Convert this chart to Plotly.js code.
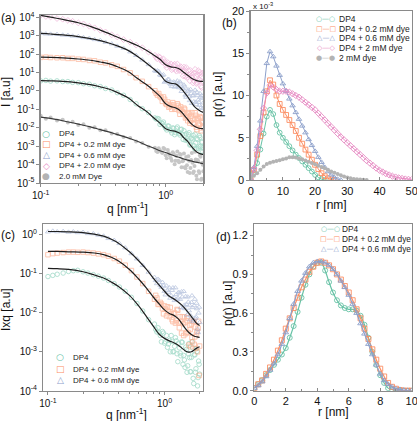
<!DOCTYPE html>
<html><head><meta charset="utf-8">
<script src="https://cdn.plot.ly/plotly-3.0.1.min.js"></script>
<style>html,body{margin:0;padding:0;background:#fff}#chart{width:417px;height:421px}</style>
</head><body><div id="chart"></div>
<script>
// ===== DATA =====
const seriesLabelsA = ['DP4','DP4 + 0.2 mM dye','DP4 + 0.6 mM dye','DP4 + 2.0 mM dye','2.0 mM Dye'];
const seriesLabelsB = ['DP4','DP4 + 0.2 mM dye','DP4 + 0.6 mM dye','DP4 + 2 mM dye','2 mM dye'];
const seriesLabelsC = ['DP4','DP4 + 0.2 mM dye','DP4 + 0.6 mM dye'];

// (a) fits, I(q)
const qFit = [0.1,0.12,0.15,0.2,0.25,0.3,0.35,0.4,0.5,0.6,0.7,0.8,0.9,1.0,1.1,1.2,1.3,1.4,1.5,1.6,1.7,1.8,1.9,2.0];
const fitA_dp4 = [3.6,3.5,3.3,2.75,2.2,1.66,1.26,0.89,0.42,0.158,0.079,0.035,0.0178,0.0089,0.0071,0.0063,0.005,0.0028,0.0018,0.001,0.00063,0.00045,0.00038,0.00035];
const fitA_02 = [68,66,62,54,46,37,30,22,11.2,4.5,2.2,1.05,0.5,0.2,0.14,0.12,0.087,0.05,0.028,0.0166,0.012,0.01,0.0091,0.0089];
const fitA_06 = [1320,1230,1100,890,690,540,400,295,158,71,33,15.8,7.9,3.3,2.6,2.4,1.58,0.89,0.48,0.25,0.14,0.1,0.079,0.068];
const fitA_20 = [12600,10000,7600,5000,3200,2000,1320,890,480,280,160,89,52,26,20,18.6,15,10,7.1,5.0,4.0,3.5,3.3,3.3];
const fitA_dye = [0.038,0.032,0.024,0.0158,0.0112,0.0079,0.006,0.0045,0.0028,0.0018,0.00112,0.00079,0.00056,0.00045,0.00035,0.00028,0.00024,0.0002,0.000174,0.000158,0.000141,0.000132,0.00012,0.000112];

// (a) measured points
const qLow = [0.10,0.11,0.12,0.135,0.15,0.165,0.18,0.2,0.22,0.245,0.27,0.3,0.33,0.37,0.41,0.46,0.52,0.58,0.65,0.73];
const qHigh = [0.82,0.86,0.90,0.94,0.98,1.02,1.06,1.10,1.14,1.18,1.22,1.26,1.30,1.34,1.38,1.42,1.46,1.50,1.54,1.58,1.62,1.66,1.70,1.74,1.78,1.82,1.86,1.90,1.94,1.98];
const qHigh2 = [0.84,0.88,0.92,0.96,1.00,1.04,1.08,1.12,1.16,1.20,1.24,1.28,1.32,1.36,1.40,1.44,1.48,1.52,1.56,1.60,1.64,1.68,1.72,1.76,1.80,1.84,1.88,1.92,1.96,2.00];
const dataA_dp4_low = [3.5,3.7,3.4,3.5,3.2,3.2,2.9,2.8,2.45,2.3,1.9,1.7,1.35,1.12,0.8,0.58,0.34,0.2,0.108,0.066];
const dataA_dp4_high = [0.034,0.0316,0.0151,0.0174,0.012,0.0076,0.012,0.0069,0.0098,0.0042,0.0091,0.006,0.004,0.0083,0.0023,0.004,0.0047,0.00195,0.0054,0.0012,0.0026,0.0038,0.00074,0.00148,0.0026,0.00079,0.0037,0.00098,0.00166,0.0005];
const dataA_dp4_high2 = [0.0295,0.030,0.0182,0.0204,0.0093,0.0126,0.0078,0.0052,0.0091,0.0055,0.011,0.0048,0.0078,0.0044,0.0069,0.0021,0.0024,0.0043,0.00115,0.0028,0.0022,0.00107,0.0045,0.00074,0.0023,0.00098,0.003,0.0005,0.00166,0.00089];
const dataA_02_low = [66,68,65,63,63,58,58,53,51,45,43,36,33,26,21.5,14.5,9.5,5.2,3.3,1.7];
const dataA_02_high = [1.02,0.59,0.5,0.27,0.35,0.182,0.129,0.182,0.23,0.102,0.126,0.162,0.054,0.096,0.058,0.1,0.048,0.024,0.056,0.0234,0.066,0.0158,0.030,0.047,0.0079,0.031,0.0155,0.035,0.0098,0.0186];
const dataA_02_high2 = [0.74,0.72,0.43,0.47,0.204,0.25,0.151,0.1,0.17,0.102,0.2,0.085,0.135,0.074,0.115,0.034,0.038,0.066,0.0178,0.043,0.033,0.0158,0.065,0.0107,0.0324,0.0135,0.04,0.0068,0.0219,0.0117];
const dataA_06_low = [1350,1250,1210,1180,1080,1050,950,900,790,720,615,550,440,360,270,208,132,85,48,27];
const dataA_06_high = [12.6,12.3,7.4,6.9,3.0,3.5,4.2,2.2,2.75,1.62,2.8,1.7,3.1,0.95,1.29,1.66,0.46,0.97,0.49,1.2,0.21,0.55,0.74,0.245,0.85,0.32,0.166,0.46,0.56,0.112];
const dataA_06_high2 = [11.7,11.4,6.9,7.6,3.4,4.2,2.6,1.74,3.1,1.8,3.5,1.5,2.4,1.32,2.1,0.6,0.66,1.12,0.30,0.72,0.55,0.26,1.1,0.182,0.56,0.24,0.72,0.123,0.4,0.224];
const dataA_20_low = [12800,11000,10300,8500,7800,6700,6000,4900,4300,3250,2650,1950,1580,1100,850,610,440,310,220,128];
const dataA_20_high = [85,54,66,37,38,18.6,24.5,29.5,16.6,28,11.8,17.8,13.2,18.6,6.5,13.2,18.6,5.4,7.4,12.6,5.0,2.7,9.1,6.6,2.9,12.6,4.0,7.4,1.5,9.1];
const dataA_20_high2 = [66,72,46,54,25.7,34.7,21.4,14.1,24.5,14.5,28.8,12.6,20.4,11.7,19.5,6.0,7.1,12.6,3.6,8.9,7.1,3.5,14.8,2.5,7.8,3.3,10.4,1.78,5.9,3.2];
const dataA_dye_low = [0.045,0.031,0.036,0.025,0.027,0.019,0.021,0.014,0.0155,0.010,0.0107,0.0072,0.0074,0.0049,0.0046,0.0031,0.0028,0.0018,0.0015,0.00092];
const dataA_dye_high = [8.1e-4,4.8e-4,5.9e-4,4.3e-4,7.1e-4,2.2e-4,4.1e-4,2.2e-4,4.6e-4,1.05e-4,3.0e-4,1.6e-4,3.7e-4,7.1e-5,1.6e-4,7.1e-5,2.6e-4,3.9e-5,1.6e-4,6.5e-5,4.2e-4,3.5e-5,8.5e-5,1.9e-4,1.6e-5,1.5e-4,3.5e-5,2.7e-4,1.7e-5,9.8e-5];
const dataA_dye_high2 = [5.4e-4,7.8e-4,4.9e-4,7.9e-4,3.2e-4,6.2e-4,3.1e-4,1.6e-4,3.9e-4,1.6e-4,5.1e-4,1.35e-4,3.4e-4,1.5e-4,4.0e-4,6.3e-5,9.3e-5,2.8e-4,3.5e-5,1.8e-4,1.26e-4,4.2e-5,5.0e-4,2.5e-5,1.8e-4,4.4e-5,3.2e-4,1.5e-5,1.23e-4,4.4e-5];

// (b) p(r), units of 1e-3
const rB = [0,1,2,3,4,5,6,7,8,9,10,11,12,13,14,15,16,17,18,19,20,21,22,23,24,25,26,27,28,29,30,31,32,33,34,35,36,37,38,39,40,41,42,43,44,45,46,47,48,49,50];
const pB_dp4 = [0,0.8,2.0,3.6,5.5,7.5,8.3,7.8,6.5,5.6,5.0,4.5,4.0,3.5,3.0,2.6,2.2,1.8,1.4,1.0,0.6,0.3,0.1,0];
const pB_02 = [0,1.2,3.0,5.2,8.0,10.5,11.8,11.3,10.0,9.0,8.3,7.7,7.1,6.5,5.8,5.0,4.3,3.6,3.0,2.4,1.8,1.3,0.8,0.45,0.2,0.05,0];
const pB_06 = [0,1.5,4.0,7.0,10.5,13.8,15.2,14.6,13.5,12.4,11.4,10.5,9.6,8.8,8.0,7.2,6.4,5.6,4.8,4.1,3.4,2.7,2.1,1.5,1.0,0.6,0.3,0.1,0];
const pB_20 = [0,1.3,3.5,6.0,8.5,10.3,11.2,11.0,10.7,10.5,10.5,10.5,10.4,10.2,10.0,9.8,9.5,9.2,8.9,8.6,8.3,7.9,7.5,7.1,6.7,6.3,5.9,5.5,5.1,4.75,4.4,4.05,3.7,3.35,3.0,2.65,2.3,2.0,1.7,1.4,1.15,0.95,0.75,0.6,0.45,0.35,0.25,0.18,0.12,0.08,0.05];
const pB_dye = [0.3,0.5,0.8,1.2,1.6,1.9,2.05,2.15,2.25,2.35,2.45,2.55,2.7,2.7,2.65,2.55,2.45,2.3,2.15,2.0,1.85,1.7,1.55,1.4,1.2,1.0,0.85,0.7,0.55,0.42,0.3,0.2,0.13,0.08,0.05,0.02,0];

// (c) I*q fits and points
const fitC_dp4 = [0.135,0.132,0.126,0.11,0.091,0.076,0.06,0.047,0.0275,0.0148,0.0079,0.0045,0.0028,0.0022,0.0019,0.0017,0.0015,0.00126,0.00107,0.00098,0.001,0.00112,0.00126,0.00135];
const fitC_02 = [0.363,0.363,0.355,0.347,0.331,0.302,0.257,0.209,0.126,0.072,0.042,0.025,0.0166,0.0117,0.0095,0.0085,0.0071,0.0054,0.004,0.0032,0.00275,0.0025,0.0024,0.00234];
const fitC_06 = [1.17,1.17,1.15,1.10,1.0,0.89,0.74,0.60,0.355,0.21,0.126,0.076,0.05,0.035,0.026,0.0224,0.019,0.0158,0.0126,0.01,0.0079,0.0063,0.0052,0.0047];
const dataC_dp4_low = [0.083,0.089,0.095,0.102,0.112,0.117,0.12,0.11,0.102,0.093,0.085,0.076,0.066,0.055,0.045,0.035,0.0245,0.017,0.011,0.0066];
const dataC_dp4_high = [0.0051,0.0032,0.0031,0.0018,0.003,0.0018,0.0013,0.00195,0.0026,0.001,0.00138,0.0019,0.00056,0.00126,0.00079,0.00174,0.00081,0.0004,0.00115,0.00044,0.00162,0.00031,0.00072,0.00126,0.000155,0.00083,0.00037,0.00102,0.00022,0.00048];
const dataC_dp4_high2 = [0.0037,0.0041,0.0026,0.0033,0.00166,0.0026,0.00158,0.001,0.00186,0.00102,0.0023,0.00089,0.00166,0.00093,0.00178,0.00048,0.00062,0.00132,0.0003,0.00089,0.00071,0.00031,0.0018,0.00021,0.00085,0.0003,0.0012,0.000135,0.00058,0.00027];
const dataC_02_low = [0.30,0.32,0.33,0.34,0.35,0.35,0.345,0.35,0.34,0.33,0.315,0.30,0.275,0.24,0.205,0.162,0.118,0.081,0.055,0.035];
const dataC_02_high = [0.0219,0.0236,0.0162,0.0166,0.0093,0.0122,0.0141,0.0079,0.0095,0.0059,0.0098,0.0063,0.0115,0.0041,0.0058,0.0078,0.0026,0.0056,0.0031,0.0074,0.00148,0.0037,0.0051,0.0018,0.0059,0.0024,0.00123,0.0033,0.004,0.00025];
const dataC_02_high2 = [0.0275,0.0162,0.0182,0.0126,0.0148,0.0083,0.0107,0.0135,0.0066,0.0093,0.0054,0.012,0.0055,0.0079,0.003,0.0052,0.0078,0.0029,0.0062,0.0031,0.0047,0.00135,0.0023,0.006,0.00155,0.0043,0.0028,0.001,0.006,0.0014];
const dataC_06_low = [1.15,1.2,1.16,1.18,1.13,1.16,1.1,1.12,1.04,1.03,0.95,0.9,0.78,0.7,0.58,0.45,0.32,0.235,0.16,0.108];
const dataC_06_high = [0.0795,0.055,0.066,0.0445,0.048,0.0284,0.0365,0.043,0.027,0.043,0.0204,0.029,0.0234,0.0316,0.0135,0.0251,0.0347,0.0126,0.0162,0.0251,0.0112,0.0066,0.0182,0.0135,0.0065,0.0219,0.0078,0.0126,0.0031,0.0138];
const dataC_06_high2 = [0.066,0.071,0.05,0.059,0.035,0.048,0.033,0.0234,0.037,0.0245,0.043,0.0214,0.033,0.0219,0.034,0.0132,0.0155,0.0257,0.0087,0.0186,0.0151,0.0083,0.027,0.0059,0.0151,0.0071,0.0174,0.0038,0.0098,0.0056];

// (d) normalised p(r)
const rD = [0,0.25,0.5,0.75,1,1.25,1.5,1.75,2,2.25,2.5,2.75,3,3.25,3.5,3.75,4,4.25,4.5,4.75,5,5.25,5.5,5.75,6,6.25,6.5,6.75,7,7.25,7.5,7.75,8,8.25,8.5,8.75,9,9.25,9.5,9.75,10];
const pD_dp4 = [0.02,0.05,0.08,0.12,0.16,0.2,0.24,0.28,0.33,0.41,0.5,0.61,0.72,0.82,0.9,0.96,0.99,0.99,0.93,0.84,0.76,0.7,0.66,0.64,0.63,0.63,0.62,0.58,0.51,0.41,0.3,0.2,0.12,0.06,0.02,0.01,0,0,0,0,0];
const pD_02 = [0.02,0.05,0.08,0.13,0.18,0.24,0.31,0.39,0.48,0.56,0.64,0.72,0.8,0.86,0.92,0.96,0.99,1.0,0.99,0.97,0.94,0.9,0.86,0.81,0.76,0.7,0.63,0.56,0.48,0.4,0.32,0.24,0.17,0.11,0.06,0.03,0.015,0.005,0,0,0];
const pD_06 = [0.02,0.04,0.07,0.11,0.16,0.21,0.28,0.36,0.45,0.56,0.67,0.77,0.85,0.91,0.96,0.99,1.0,1.0,0.99,0.97,0.94,0.9,0.85,0.8,0.74,0.67,0.6,0.52,0.44,0.36,0.28,0.2,0.13,0.08,0.05,0.03,0.015,0.01,0.005,0,0];

// tick exponents for log axes
const expA_y = [-5,-4,-3,-2,-1,0,1,2,3,4];
const expC_y = [-4,-3,-2,-1,0];
const expQ = [-1,0];

// ===== STYLE / LAYOUT =====
const FONT = 'Liberation Sans, Arial, sans-serif';
const SYMF = 'DejaVu Sans, sans-serif';
const W = 417, H = 421;
const px = v => v / W;
const py = v => 1 - v / H;
const COL = ['#66c2a5', '#fc8d62', '#8da0cb', '#e78ac3', '#b3b3b3'];
const SYM = ['circle-open', 'square-open', 'triangle-up-open', 'diamond-open', 'circle'];
const GLYPH = ['○', '□', '△', '◇', '●'];
const AXC = '#8a8a8a';

const traces = [];
const qAll = qLow.concat(qHigh, qHigh2);
// (a) points
const aLow = [dataA_dp4_low, dataA_02_low, dataA_06_low, dataA_20_low, dataA_dye_low];
const aHigh = [dataA_dp4_high, dataA_02_high, dataA_06_high, dataA_20_high, dataA_dye_high];
const aHigh2 = [dataA_dp4_high2, dataA_02_high2, dataA_06_high2, dataA_20_high2, dataA_dye_high2];
const aFit = [fitA_dp4, fitA_02, fitA_06, fitA_20, fitA_dye];
const orderA = [4, 0, 1, 2, 3];
orderA.forEach(i => {
  traces.push({
    x: qAll, y: aLow[i].concat(aHigh[i], aHigh2[i]), mode: 'markers', xaxis: 'x', yaxis: 'y',
    opacity: i === 4 ? 0.75 : 0.55,
    marker: {symbol: SYM[i], size: i === 4 ? 4 : 4.5, color: COL[i], line: {color: COL[i], width: i === 4 ? 0 : 0.9}}
  });
});
orderA.forEach(i => {
  traces.push({x: qFit, y: aFit[i], mode: 'lines', xaxis: 'x', yaxis: 'y',
    line: {color: i === 4 ? '#3a3a3a' : '#1e1e1e', width: 1.2, shape: 'spline'}});
});

// (b)
const bVals = [pB_dp4, pB_02, pB_06, pB_20, pB_dye];
[0, 1, 2, 3, 4].forEach(i => {
  traces.push({
    x: rB, y: bVals[i], mode: 'lines+markers', xaxis: 'x2', yaxis: 'y2',
    line: {color: COL[i], width: 1},
    marker: {symbol: SYM[i], size: i === 4 ? 4 : 4.8, color: COL[i], line: {color: COL[i], width: i === 4 ? 0 : 0.9}}
  });
});

// (c)
const cLow = [dataC_dp4_low, dataC_02_low, dataC_06_low];
const cHigh = [dataC_dp4_high, dataC_02_high, dataC_06_high];
const cHigh2 = [dataC_dp4_high2, dataC_02_high2, dataC_06_high2];
const cFit = [fitC_dp4, fitC_02, fitC_06];
[0, 1, 2].forEach(i => {
  traces.push({
    x: qAll, y: cLow[i].concat(cHigh[i], cHigh2[i]), mode: 'markers', xaxis: 'x3', yaxis: 'y3', opacity: 0.55,
    marker: {symbol: SYM[i], size: 4.5, color: COL[i], line: {color: COL[i], width: 0.9}}
  });
});
[0, 1, 2].forEach(i => {
  traces.push({x: qFit, y: cFit[i], mode: 'lines', xaxis: 'x3', yaxis: 'y3',
    line: {color: '#1e1e1e', width: 1.2, shape: 'spline'}});
});

// (d)
const dVals = [pD_dp4, pD_02, pD_06];
[0, 1, 2].forEach(i => {
  traces.push({
    x: rD, y: dVals[i], mode: 'lines+markers', xaxis: 'x4', yaxis: 'y4',
    line: {color: COL[i], width: 1.2, shape: 'spline'},
    marker: {symbol: SYM[i], size: 5, color: COL[i], line: {color: COL[i], width: 0.9}}
  });
});

const base = {
  showline: true, mirror: true, linecolor: AXC, linewidth: 1.3,
  ticks: 'outside', ticklen: 3, tickwidth: 1, tickcolor: AXC,
  showgrid: false, zeroline: false, ticklabeloverflow: 'allow',
  tickfont: {family: FONT, size: 10, color: '#111'}
};
const big = {family: FONT, size: 11, color: '#111'};
const sup = e => '10<sup>' + e + '</sup>';
const minorLog = {ticks: 'outside', ticklen: 2, tickcolor: AXC, dtick: 'D1', showgrid: false};

const layout = {
  width: W, height: H, autosize: false, showlegend: false,
  margin: {l: 0, r: 0, t: 0, b: 0, pad: 0},
  paper_bgcolor: '#fff', plot_bgcolor: '#fff',
  font: {family: FONT, color: '#111'},
  xaxis: Object.assign({}, base, {type: 'log', domain: [px(40.7), px(203.3)], range: [-1, Math.log10(2)], anchor: 'y',
    tickmode: 'array', tickvals: expQ.map(e => Math.pow(10, e)), ticktext: expQ.map(sup), minor: minorLog}),
  yaxis: Object.assign({}, base, {type: 'log', domain: [py(183), py(15)], range: [-5, 4.12], anchor: 'x',
    tickmode: 'array', tickvals: expA_y.map(e => Math.pow(10, e)), ticktext: expA_y.map(sup)}),
  xaxis2: Object.assign({}, base, {domain: [px(250.7), px(411.7)], range: [0, 50], anchor: 'y2', dtick: 10,
    ticks: 'inside', tickfont: big, minor: {ticks: 'inside', ticklen: 2, tickcolor: AXC, dtick: 5}}),
  yaxis2: Object.assign({}, base, {domain: [py(180), py(11)], range: [0, 20], anchor: 'x2', dtick: 5,
    tickfont: big, minor: {ticks: 'outside', ticklen: 2, tickcolor: AXC, dtick: 2.5}}),
  xaxis3: Object.assign({}, base, {type: 'log', domain: [px(43.3), px(203)], range: [-1.04, 0.33], anchor: 'y3',
    tickmode: 'array', tickvals: expQ.map(e => Math.pow(10, e)), ticktext: expQ.map(sup), minor: minorLog}),
  yaxis3: Object.assign({}, base, {type: 'log', domain: [py(391), py(224)], range: [-4, 0.26], anchor: 'x3',
    tickmode: 'array', tickvals: expC_y.map(e => Math.pow(10, e)), ticktext: expC_y.map(sup)}),
  xaxis4: Object.assign({}, base, {domain: [px(254.3), px(411.7)], range: [0, 10], anchor: 'y4', dtick: 2,
    ticks: 'inside', tickfont: big, minor: {ticks: 'inside', ticklen: 2, tickcolor: AXC, dtick: 1}}),
  yaxis4: Object.assign({}, base, {domain: [py(390.7), py(224)], range: [0, 1.29], anchor: 'x4', dtick: 0.3, tick0: 0,
    tickformat: '.1f', tickfont: big,
    minor: {ticks: 'outside', ticklen: 2, tickcolor: AXC, dtick: 0.15}}),
  annotations: []
};

function ann(text, x, y, o) {
  layout.annotations.push(Object.assign({
    text: text, xref: 'paper', yref: 'paper', x: px(x), y: py(y),
    xanchor: 'center', yanchor: 'middle', showarrow: false,
    font: {family: FONT, size: 12, color: '#111'}
  }, o || {}));
}
// panel letters
ann('(a)', -1, 18, {xanchor: 'left'});
ann('(b)', 229.5, 23);
ann('(c)', -1, 235, {xanchor: 'left'});
ann('(d)', 223.5, 236.5);
// axis titles
ann('I [a.u]', 6, 92, {textangle: -90});
ann('q [nm<sup>-1</sup>]', 128, 208);
ann('p(r) [a.u]', 218, 95, {textangle: -90});
ann('r [nm]', 331, 205);
ann('Ixq [a.u]', 6, 310, {textangle: -90});
ann('q [nm<sup>-1</sup>]', 126, 414);
ann('p(r) [a.u]', 228, 304, {textangle: -90});
ann('r [nm]', 333, 412);
ann('x 10<sup>-3</sup>', 251, 6, {xanchor: 'left', font: {family: FONT, size: 8, color: '#111'}});

// legends
const legYA = [134, 144.5, 155, 165.5, 176];
seriesLabelsA.forEach((t, i) => {
  ann(GLYPH[i], 46, legYA[i], {font: {family: SYMF, size: 9, color: COL[i]}});
  ann(t, 56.5, legYA[i], {xanchor: 'left', font: {family: FONT, size: 8, color: '#222'}});
});
const legYC = [357, 369, 380];
seriesLabelsC.forEach((t, i) => {
  ann(GLYPH[i], 60, legYC[i], {font: {family: SYMF, size: 9, color: COL[i]}});
  ann(t, 71, legYC[i], {xanchor: 'left', font: {family: FONT, size: 8, color: '#222'}});
});
const legYB = [19, 28.6, 38.3, 47.8, 57.5];
seriesLabelsB.forEach((t, i) => {
  ann(GLYPH[i] + '—' + GLYPH[i], 325.5, legYB[i], {font: {family: SYMF, size: 7, color: COL[i]}});
  ann(t, 336.5, legYB[i], {xanchor: 'left', font: {family: FONT, size: 8.5, color: '#222'}});
});
const legYD = [228.5, 238.5, 248.5];
seriesLabelsC.forEach((t, i) => {
  ann(GLYPH[i] + '—' + GLYPH[i], 330, legYD[i], {font: {family: SYMF, size: 7, color: COL[i]}});
  ann(t, 340, legYD[i], {xanchor: 'left', font: {family: FONT, size: 8.3, color: '#222'}});
});

Plotly.newPlot('chart', traces, layout, {displayModeBar: false, staticPlot: true});
</script>
</body></html>
